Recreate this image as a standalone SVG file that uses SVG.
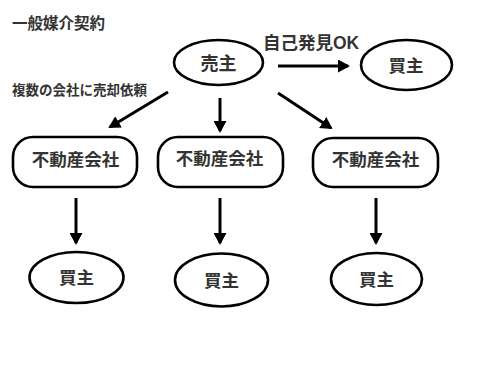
<svg xmlns="http://www.w3.org/2000/svg" width="500" height="380" viewBox="0 0 500 380">
<defs>
<marker id="ah" markerUnits="userSpaceOnUse" markerWidth="12" markerHeight="13" viewBox="0 0 12 13" refX="10" refY="6.5" orient="auto">
<path d="M0,0 L12,6.5 L0,13 z" fill="#000"/>
</marker>
<style>
.t{font-family:"Liberation Sans","Noto Sans CJK JP",sans-serif;font-weight:bold;fill:#333;text-anchor:middle;dominant-baseline:central}
.lbl{font-family:"Liberation Sans","Noto Sans CJK JP",sans-serif;font-weight:bold;fill:#333}
.el{fill:#fff;stroke:#000;stroke-width:2.6}
.bx{fill:#fff;stroke:#000;stroke-width:2.6}
.c{stroke:#000;stroke-width:3;fill:none;marker-end:url(#ah)}
</style>
</defs>
<rect width="500" height="380" fill="#fff"/>
<text class="lbl" x="12" y="29" font-size="15.5">一般媒介契約</text>
<text class="lbl" x="12" y="95" font-size="13.5">複数の会社に売却依頼</text>
<text class="lbl" x="263" y="49" font-size="17.5">自己発見OK</text>
<g id="connectors">
<line class="c" x1="278" y1="66" x2="348" y2="66"/>
<line class="c" x1="168" y1="92" x2="110" y2="127"/>
<line class="c" x1="220" y1="98" x2="220" y2="131"/>
<line class="c" x1="278" y1="93" x2="331" y2="128"/>
<line class="c" x1="76" y1="198" x2="76" y2="243"/>
<line class="c" x1="220" y1="198" x2="220" y2="243"/>
<line class="c" x1="376" y1="198" x2="376" y2="243"/>
</g>
<g id="seller">
<ellipse class="el" cx="218.5" cy="62.5" rx="44.5" ry="22.5"/>
<text class="t" x="218.5" y="64" font-size="18">売主</text>
</g>
<g id="buyer-self">
<ellipse class="el" cx="406.5" cy="65" rx="45.5" ry="25"/>
<text class="t" x="406" y="65.5" font-size="17.5">買主</text>
</g>
<g id="agent1">
<rect class="bx" x="13" y="137" width="124" height="50" rx="20"/>
<text class="t" x="75.5" y="160" font-size="17.5">不動産会社</text>
</g>
<g id="agent2">
<rect class="bx" x="158" y="137" width="125" height="50" rx="20"/>
<text class="t" x="219.5" y="158.5" font-size="17.5">不動産会社</text>
</g>
<g id="agent3">
<rect class="bx" x="313" y="138" width="125" height="49" rx="20"/>
<text class="t" x="375.5" y="160" font-size="17.5">不動産会社</text>
</g>
<g id="buyer1">
<ellipse class="el" cx="76.5" cy="277.5" rx="47" ry="25.5"/>
<text class="t" x="76.5" y="278" font-size="17.5">買主</text>
</g>
<g id="buyer2">
<ellipse class="el" cx="221.5" cy="280" rx="46.5" ry="26.5"/>
<text class="t" x="221.5" y="280.5" font-size="17.5">買主</text>
</g>
<g id="buyer3">
<ellipse class="el" cx="376.5" cy="279" rx="45.5" ry="26"/>
<text class="t" x="376.5" y="279.5" font-size="17.5">買主</text>
</g>
</svg>
